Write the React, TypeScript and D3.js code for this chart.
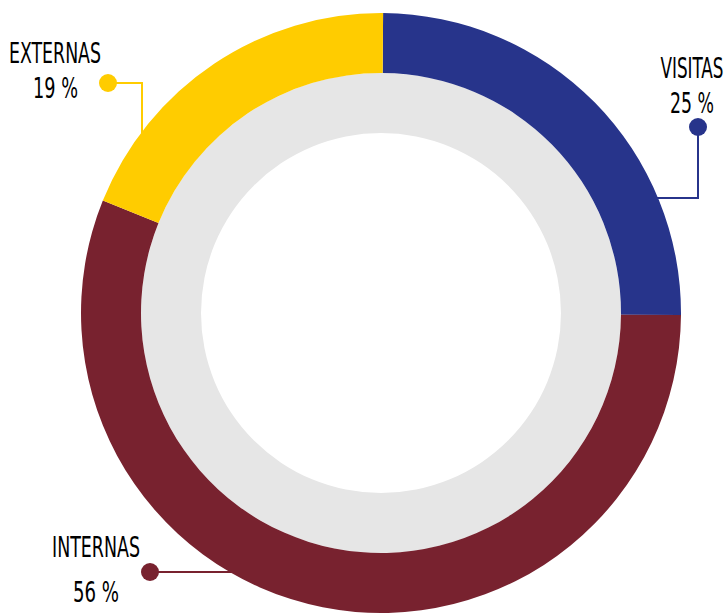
import React, { useLayoutEffect, useRef, useState } from "react";
import * as d3 from "d3";

const categories = ["VISITAS", "INTERNAS", "EXTERNAS"];
const values = [25, 56, 19];
const valueLabels = ["25 %", "56 %", "19 %"];
const colors = ["#27348b", "#78222f", "#ffcc00"];

const W = 728;
const H = 613;
const cx = 381;
const cy = 313;
const R_OUT = 300;
const R_IN = 240;
const R_HOLE = 180;

// label layout (positions per category)
const labelLayout = [
  { nameX: 692, nameY: 78, nameW: 63, valX: 692, valY: 113, valW: 44, dot: [698, 127], path: [[698, 127], [698, 198], [640, 198]] },
  { nameX: 96, nameY: 557, nameW: 88, valX: 96, valY: 602, valW: 46, dot: [150, 572], path: [[150, 572], [250, 572]] },
  { nameX: 55, nameY: 63, nameW: 92, valX: 55.5, valY: 98, valW: 45, dot: [108, 83], path: [[108, 83], [142, 83], [142, 150]] },
];

function FitText({ x, y, w, text }: { x: number; y: number; w: number; text: string }) {
  const ref = useRef<SVGTextElement>(null);
  const [sx, setSx] = useState(0.8);
  useLayoutEffect(() => {
    if (ref.current) {
      const len = ref.current.getComputedTextLength();
      if (len > 0) setSx(w / len);
    }
  }, [w, text]);
  return (
    <g transform={`translate(${x},${y}) scale(${sx},1)`}>
      <text ref={ref} x={0} y={0} textAnchor="middle">
        {text}
      </text>
    </g>
  );
}

export default function App() {
  const total = d3.sum(values);
  const pie = d3
    .pie<number>()
    .sort(null)
    .value((d) => d)
    .startAngle(0.007)
    .endAngle(0.007 + 2 * Math.PI);
  const arcs = pie(values);
  const arcGen = d3.arc<d3.PieArcDatum<number>>().innerRadius(R_IN).outerRadius(R_OUT);
  const hole = d3.arc()({ innerRadius: R_HOLE, outerRadius: R_IN, startAngle: 0, endAngle: 2 * Math.PI } as any);
  const line = d3.line();
  const font = "'DejaVu Sans Condensed', 'Liberation Sans Narrow', sans-serif";

  return (
    <div style={{ position: "absolute", left: 0, top: 0, width: W, height: H }}>
      <svg width={W} height={H} style={{ display: "block" }}>
        <rect width={W} height={H} fill="#ffffff" />
        {labelLayout.map((l, i) => (
          <g key={"lead" + i}>
            <path d={line(l.path as [number, number][]) || ""} fill="none" stroke={colors[i]} strokeWidth={2} />
            <circle cx={l.dot[0]} cy={l.dot[1]} r={9} fill={colors[i]} />
          </g>
        ))}
        <g transform={`translate(${cx},${cy})`}>
          <path d={hole || ""} fill="#e6e6e6" />
          {arcs.map((a, i) => (
            <path key={i} d={arcGen(a) || ""} fill={colors[i]} />
          ))}
        </g>
        {labelLayout.map((l, i) => (
          <g key={"lab" + i} fontFamily={font} fontSize={27.5} fill="#000">
            <FitText x={l.nameX} y={l.nameY} w={l.nameW} text={categories[i]} />
            <FitText
              x={l.valX}
              y={l.valY}
              w={l.valW}
              text={valueLabels[i] || `${Math.round((values[i] / total) * 100)} %`}
            />
          </g>
        ))}
      </svg>
    </div>
  );
}
